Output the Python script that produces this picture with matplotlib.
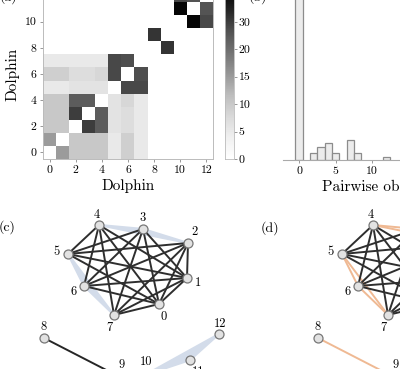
import numpy as np
import matplotlib
matplotlib.use("Agg")
import matplotlib.pyplot as plt
from matplotlib.colors import FuncNorm
from matplotlib.patches import Polygon

plt.rcParams["font.family"] = ["cmr10", "DejaVu Serif"]
plt.rcParams["axes.unicode_minus"] = False
plt.rcParams["mathtext.fontset"] = "cm"

# (a) pairwise association counts between dolphins (symmetric)
DOLPHINS = list(range(13))
PAIR_I = [0, 0, 0, 0, 1, 1, 1, 2, 2, 3,
          0, 1, 2, 3, 4, 0, 1, 2, 3, 4, 0, 1, 2, 3, 4,
          5, 5, 6, 8, 10, 10, 11]
PAIR_J = [1, 2, 3, 4, 2, 3, 4, 3, 4, 4,
          5, 5, 5, 5, 5, 6, 6, 6, 6, 6, 7, 7, 7, 7, 7,
          6, 7, 7, 9, 11, 12, 12]
PAIR_COUNT = [15, 10, 10, 10, 10, 10, 10, 30, 24, 24,
              5, 5, 6, 6, 6, 9, 9, 7, 7, 8, 5, 5, 5, 5, 5,
              28, 28, 27, 31, 37, 28, 26]
CBAR_TICKS = [0, 5, 10, 15, 20, 30]

# (b) histogram of pairwise observations
HIST_X = [0, 2, 3, 4, 5, 7, 8, 12]
HIST_COUNT = [60, 2, 4, 5, 2, 6, 2, 1]

# (c)/(d) network layout and structure
NODE_XY = [(159, 304), (187, 278), (188, 243), (143, 229), (99, 225),
           (68, 254), (84, 286), (114, 315), (44, 338), (114, 374),
           (145, 375), (190, 360), (219, 334)]
LABEL_OFFSET = [(5, 13), (11, 5), (6, -11), (0, -11), (-2, -10),
                (-12, -2), (-10, 6), (-5, 13), (0, -11), (8, -9),
                (1, -13), (8, 12), (1, -10)]
TRIANGLES = [(2, 3, 4), (5, 6, 7), (10, 11, 12)]
CLUSTER = list(range(8))

W, H = 400, 369


def px_rect(left, top, right, bottom):
    return [left / W, 1 - bottom / H, (right - left) / W, (bottom - top) / H]


def build_matrix():
    m = np.zeros((13, 13))
    for i, j, c in zip(PAIR_I, PAIR_J, PAIR_COUNT):
        m[i, j] = c
        m[j, i] = c
    return m


def pair_edges():
    tri_pairs = set()
    for a, b, c in TRIANGLES:
        tri_pairs |= {(a, b), (a, c), (b, c)}
    black = []
    for i in CLUSTER:
        for j in CLUSTER:
            if i < j and (i, j) not in tri_pairs:
                black.append((i, j))
    return black, sorted(tri_pairs)


def draw_graph(ax, mode):
    black, tri_pairs = pair_edges()
    xs = [p[0] for p in NODE_XY]
    ys = [p[1] for p in NODE_XY]
    if mode == "c":
        for tri in TRIANGLES:
            pts = [NODE_XY[k] for k in tri]
            ax.add_patch(Polygon(pts, closed=True, facecolor="#d3dcea",
                                 edgecolor="#d3dcea", lw=1.6,
                                 joinstyle="round", zorder=1))
        ax.plot([xs[8], xs[9]], [ys[8], ys[9]], color="#262626", lw=1.4,
                zorder=2)
    else:
        for i, j in tri_pairs + [(8, 9)]:
            ax.plot([xs[i], xs[j]], [ys[i], ys[j]], color="#efb993", lw=1.4,
                    zorder=1)
    for i, j in black:
        ax.plot([xs[i], xs[j]], [ys[i], ys[j]], color="#2e2e2e", lw=1.4,
                zorder=2)
    ax.scatter(xs, ys, s=42, facecolor="#e2e2e2", edgecolor="#777777",
               linewidth=0.9, zorder=3)
    for k, ((x, y), (dx, dy)) in enumerate(zip(NODE_XY, LABEL_OFFSET)):
        ax.text(x + dx, y + dy, str(k), ha="center", va="center",
                fontsize=9, zorder=4)
    ax.set_xlim(0, 260)
    ax.set_ylim(400, 200)
    ax.axis("off")


fig = plt.figure(figsize=(W / 100, H / 100), dpi=100)

# (a) heatmap
ax_a = fig.add_axes(px_rect(43, -11, 213, 159))
xs_norm = [0, 5, 10, 15, 20, 30, 38]
ys_norm = [0, 1, 2, 3, 4, 5, 6.2]
norm = FuncNorm((lambda v: np.interp(v, xs_norm, ys_norm),
                 lambda v: np.interp(v, ys_norm, xs_norm)), vmin=0, vmax=38)
im = ax_a.imshow(build_matrix(), cmap="Greys", norm=norm, origin="lower",
                 aspect="auto", extent=(-0.5, 12.5, -0.5, 12.5))
ax_a.set_xticks(range(0, 13, 2))
ax_a.set_yticks(range(0, 13, 2))
ax_a.tick_params(labelsize=8.5, length=2.5, width=0.6, color="#888888",
                 pad=2)
for s in ax_a.spines.values():
    s.set_color("#bbbbbb")
    s.set_linewidth(0.7)
ax_a.set_xlabel("Dolphin", fontsize=11, labelpad=3)
ax_a.set_ylabel("Dolphin", fontsize=11, labelpad=4)

cax = fig.add_axes(px_rect(225, -11, 234, 159))
cb = fig.colorbar(im, cax=cax, ticks=CBAR_TICKS)
cb.outline.set_edgecolor("#bbbbbb")
cb.outline.set_linewidth(0.6)
cax.tick_params(labelsize=8.5, length=2.5, width=0.6, color="#888888", pad=1)
cax.set_yticklabels([str(t) for t in CBAR_TICKS])

# (b) histogram
ax_b = fig.add_axes(px_rect(283, -11, 511, 160))
ax_b.bar(HIST_X, HIST_COUNT, width=1, facecolor="#ececec",
         edgecolor="#8c8c8c", linewidth=0.9)
ax_b.set_xlim(-2.2, 29)
ax_b.set_ylim(0, 51)
ax_b.set_xticks([0, 5, 10, 15, 20, 25])
ax_b.set_yticks([])
for side in ["left", "top", "right"]:
    ax_b.spines[side].set_visible(False)
ax_b.spines["bottom"].set_color("#aaaaaa")
ax_b.tick_params(labelsize=8.5, length=2.5, width=0.6, color="#888888",
                 pad=2)
ax_b.set_xlabel("Pairwise observations", fontsize=11, ha="left")
ax_b.xaxis.set_label_coords((322 - 283) / 228, -(187 - 160) / 171)
ax_b.xaxis.label.set_va("center")

# (c) and (d) networks
ax_c = fig.add_axes(px_rect(0, 200, 260, 400))
draw_graph(ax_c, "c")
ax_d = fig.add_axes(px_rect(274, 200, 534, 400))
draw_graph(ax_d, "d")

fig.text(7 / W, 1 - 227 / H, "(c)", fontsize=10, ha="center", va="center")
fig.text(270 / W, 1 - 228 / H, "(d)", fontsize=10, ha="center", va="center")
fig.text(8 / W, 1 + 3 / H, "(a)", fontsize=10, ha="center", va="center")
fig.text(258 / W, 1 + 3 / H, "(b)", fontsize=10, ha="center", va="center")

fig.savefig("out.png", dpi=100)
